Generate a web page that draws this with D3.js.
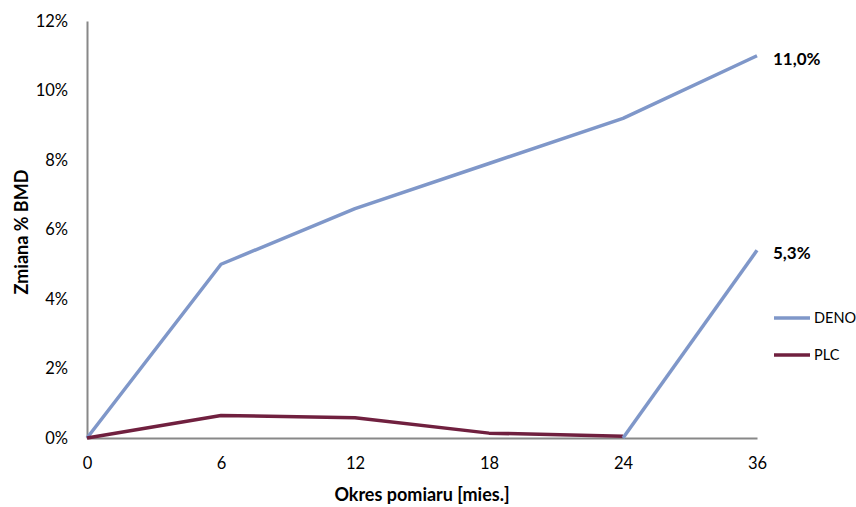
<!DOCTYPE html>
<html><head><meta charset="utf-8">
<script src="https://cdn.jsdelivr.net/npm/d3@7"></script>
<style>body{margin:0;background:#fff}svg{font-family:Lato,"Open Sans",sans-serif}</style>
</head><body><svg id="c" width="856" height="507"></svg>
<script>
const categories = ["0","6","12","18","24","36"];
const deno = [0, 5.0, 6.6, 7.9, 9.2, 11.0];
const plc = [0, 0.65, 0.58, 0.14, 0.05, null];
const plcDeno = [null, null, null, null, 0, 5.4];
const yTicks = [0,2,4,6,8,10,12];
const endLabels = ["11,0%", "5,3%"];

const svg = d3.select("#c");
const x = d3.scalePoint().domain(categories).range([87, 757]);
const y = d3.scaleLinear().domain([0, 12]).range([438, 21]);
const blue = "#7f97c9", maroon = "#70203f";

svg.append("g").attr("transform","translate(87,0)")
  .call(d3.axisLeft(y).tickValues(yTicks).tickSize(0).tickPadding(19).tickFormat(d => d + "%"))
  .call(g => g.select(".domain").attr("stroke","#888").attr("stroke-width",2))
  .call(g => g.selectAll("text").attr("font-size",16.5).attr("fill","#000").attr("font-family","Lato"));
svg.append("g").attr("transform","translate(0,438)")
  .call(d3.axisBottom(x).tickSize(0).tickPadding(19))
  .call(g => g.select(".domain").attr("stroke","#888").attr("stroke-width",2))
  .call(g => g.selectAll("text").attr("font-size",16.5).attr("fill","#000").attr("font-family","Lato"));

const line = d3.line().defined(d => d != null).x((d,i) => x(categories[i])).y(d => y(d));
const draw = (data, col) => svg.append("path").datum(data).attr("d", line)
  .attr("fill","none").attr("stroke",col).attr("stroke-width",3.5).attr("stroke-linejoin","round");
draw(deno, blue);
draw(plc, maroon);
draw(plcDeno, blue);

svg.append("text").attr("x",773).attr("y",y(deno[5])+9).attr("font-weight","bold").attr("font-size",17).text(endLabels[0]);
svg.append("text").attr("x",773).attr("y",y(plcDeno[5])+9).attr("font-weight","bold").attr("font-size",17).text(endLabels[1]);

const legend = [["DENO", blue, 318], ["PLC", maroon, 355]];
legend.forEach(([t,c,yy]) => {
  svg.append("line").attr("x1",774).attr("x2",810).attr("y1",yy).attr("y2",yy).attr("stroke",c).attr("stroke-width",3.5);
  svg.append("text").attr("x",814).attr("y",yy+5).attr("font-size",14.5).text(t);
});

svg.append("text").attr("x",422).attr("y",501).attr("text-anchor","middle").attr("font-weight","bold").attr("font-size",18).text("Okres pomiaru [mies.]");
svg.append("text").attr("transform","translate(28,232) rotate(-90)").attr("text-anchor","middle").attr("font-weight","bold").attr("font-size",18).text("Zmiana % BMD");
</script></body></html>
